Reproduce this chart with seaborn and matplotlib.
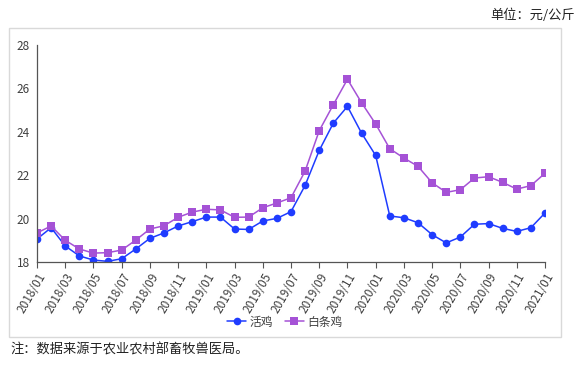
import numpy as np
import pandas as pd
import seaborn as sns
import matplotlib.pyplot as plt
from matplotlib.patches import Rectangle

months = [f"{y}/{m:02d}" for y in (2018, 2019, 2020) for m in range(1, 13)] + ["2021/01"]

live_chicken = [19.06, 19.58, 18.74, 18.28, 18.09, 18.03, 18.15, 18.60, 19.09, 19.34, 19.66, 19.86,
                20.07, 20.07, 19.52, 19.50, 19.89, 20.01, 20.32, 21.53, 23.14, 24.40, 25.17, 23.94,
                22.91, 20.12, 20.04, 19.81, 19.26, 18.88, 19.15, 19.74, 19.77, 19.55, 19.41, 19.58,
                20.26]
white_chicken = [19.34, 19.66, 19.00, 18.60, 18.41, 18.43, 18.55, 19.01, 19.52, 19.67, 20.06, 20.30,
                 20.43, 20.40, 20.06, 20.07, 20.50, 20.72, 20.96, 22.19, 24.05, 25.25, 26.42, 25.34,
                 24.36, 23.22, 22.79, 22.41, 21.65, 21.21, 21.33, 21.87, 21.93, 21.67, 21.36, 21.52,
                 22.09]
series_names = ["活鸡", "白条鸡"]

df = pd.DataFrame({
    "idx": list(range(len(months))) * 2,
    "price": live_chicken + white_chicken,
    "kind": [series_names[0]] * len(months) + [series_names[1]] * len(months),
})

sns.set_style("white")
plt.rcParams['font.family'] = ['Noto Sans CJK SC', 'DejaVu Sans']

fig = plt.figure(figsize=(5.81, 3.65), dpi=100)
ax = fig.add_axes([37 / 581, 1 - 262 / 365, 508 / 581, 217 / 365])

sns.lineplot(data=df, x="idx", y="price", hue="kind", style="kind",
             palette=["#1f3cff", "#a552d6"], markers=["o", "s"], dashes=False,
             markersize=5.5, markeredgewidth=0, linewidth=1.1, ax=ax)

ax.set_xlim(0, 36)
ax.set_ylim(18, 28)
ax.set_yticks([18, 20, 22, 24, 26, 28])
ticks = list(range(0, 37, 2))
ax.set_xticks(ticks)
ax.set_xticklabels([months[i] for i in ticks], rotation=60, ha="right",
                   rotation_mode="anchor", fontsize=8.5, color="#404040")
ax.tick_params(axis="y", labelsize=8.5, colors="#404040", length=0, pad=5)
ax.tick_params(axis="x", length=4, width=0.8, color="#555555", bottom=True, pad=2)
ax.set_xlabel("")
ax.set_ylabel("")
for s in ["top", "right"]:
    ax.spines[s].set_visible(False)
for s in ["left", "bottom"]:
    ax.spines[s].set_color("#555555")
    ax.spines[s].set_linewidth(0.9)

leg = ax.legend(loc="center", bbox_to_anchor=(285 / 581, 1 - 322 / 365),
                bbox_transform=fig.transFigure, ncol=2, frameon=False,
                fontsize=8.5, handlelength=1.6, columnspacing=1.0, handletextpad=0.3)
for t in leg.get_texts():
    t.set_color("#404040")

fig.patches.append(Rectangle((9 / 581, 1 - 337 / 365), 552 / 581, 309 / 365,
                             transform=fig.transFigure, fill=False,
                             edgecolor="#d9d9d9", linewidth=1.0))

fig.text(575 / 581, 1 - 15 / 365, "单位：元/公斤", ha="right", va="center",
         fontsize=9.5, color="#222222")
fig.text(10 / 581, 1 - 350 / 365, "注：数据来源于农业农村部畜牧兽医局。", ha="left", va="center",
         fontsize=9.5, color="#222222")

fig.savefig("out.png", dpi=100)
